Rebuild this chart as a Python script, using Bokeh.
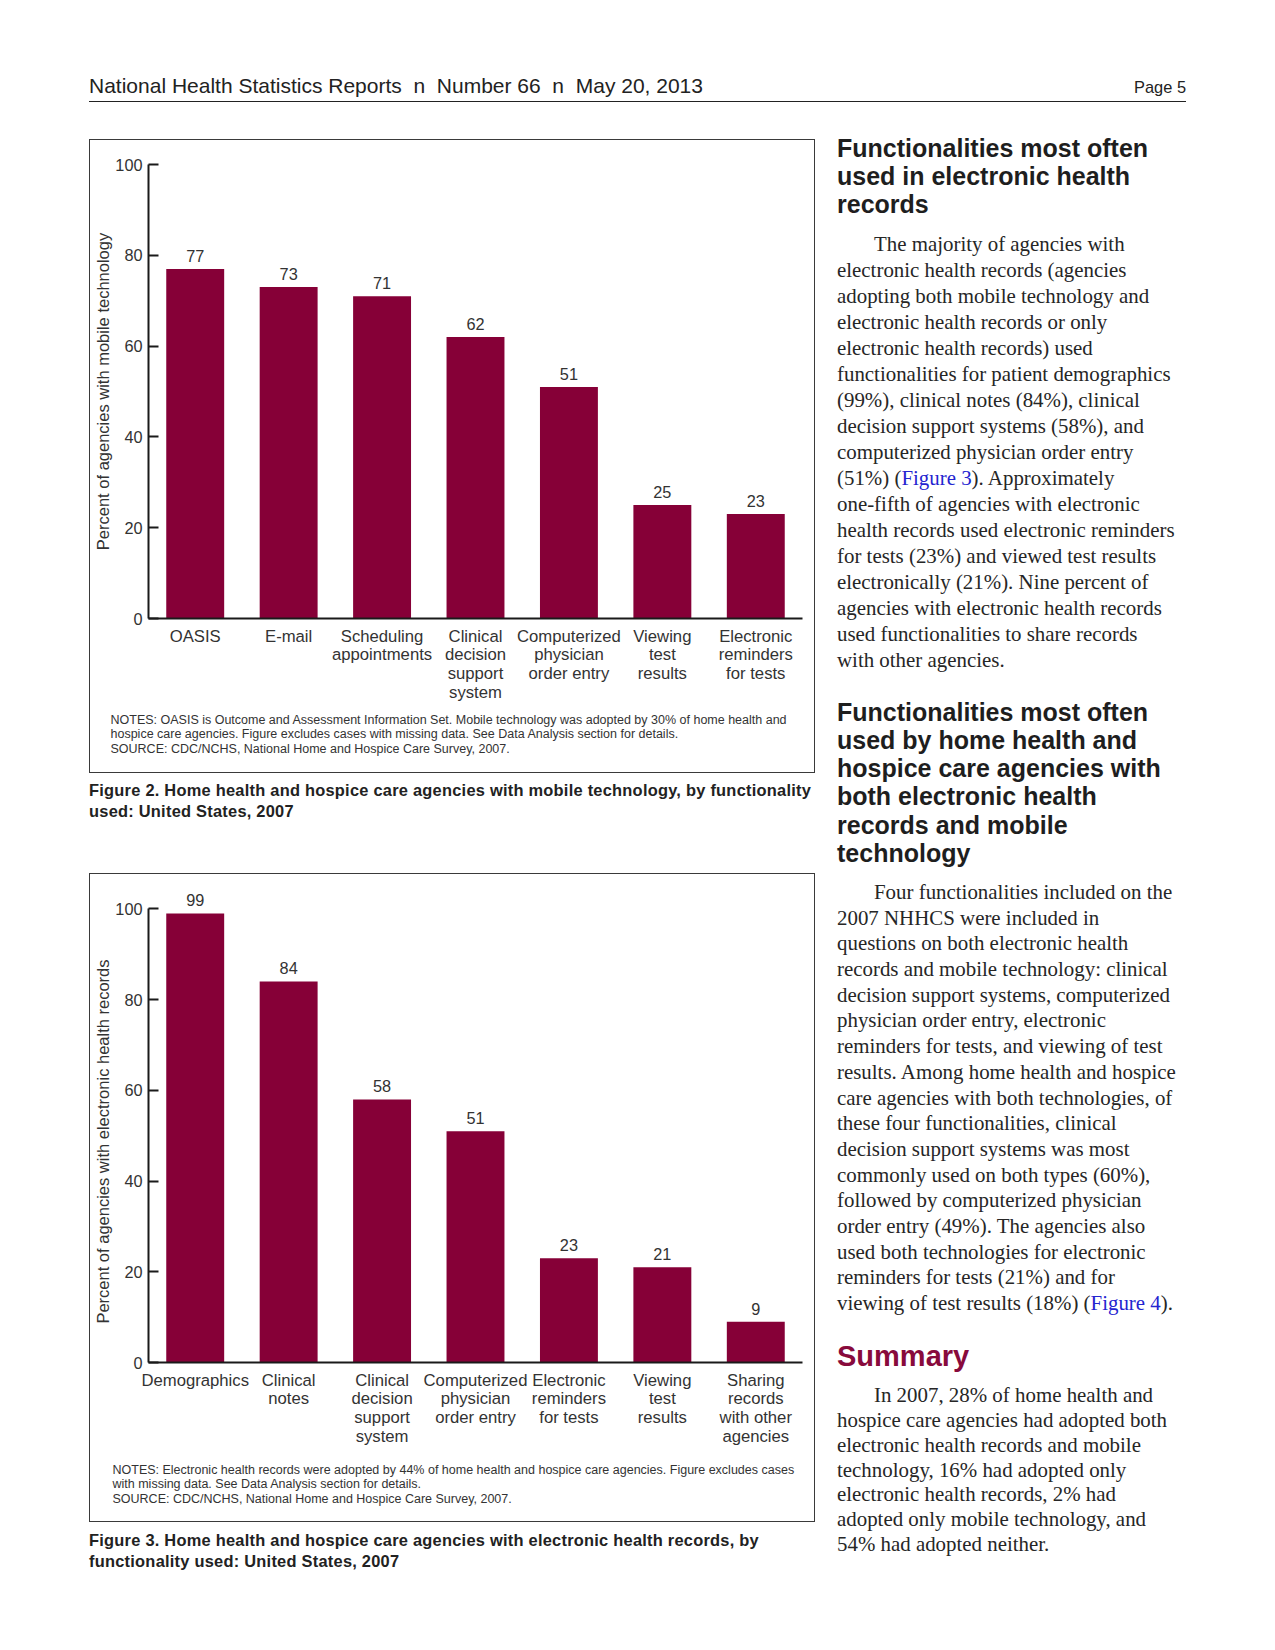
from bokeh.plotting import figure
from bokeh.models import FactorRange, Range1d, ColumnDataSource, LabelSet, Div, Spacer, FixedTicker
from bokeh.layouts import column, row
from bokeh.core.properties import value
from bokeh.embed import file_html
from bokeh.resources import INLINE

# ---------------- data ----------------
cats1 = ["OASIS", "E-mail", "Scheduling\nappointments", "Clinical\ndecision\nsupport\nsystem",
         "Computerized\nphysician\norder entry", "Viewing\ntest\nresults", "Electronic\nreminders\nfor tests"]
vals1 = [77, 73, 71, 62, 51, 25, 23]

cats2 = ["Demographics", "Clinical\nnotes", "Clinical\ndecision\nsupport\nsystem",
         "Computerized\nphysician\norder entry", "Electronic\nreminders\nfor tests",
         "Viewing\ntest\nresults", "Sharing\nrecords\nwith other\nagencies"]
vals2 = [99, 84, 58, 51, 23, 21, 9]

yticks = [0, 20, 40, 60, 80, 100]

ylabel1 = "Percent of agencies with mobile technology"
ylabel2 = "Percent of agencies with electronic health records"

notes1 = ["NOTES: OASIS is Outcome and Assessment Information Set. Mobile technology was adopted by 30% of home health and",
          "hospice care agencies. Figure excludes cases with missing data. See Data Analysis section for details.",
          "SOURCE: CDC/NCHS, National Home and Hospice Care Survey, 2007."]
notes2 = ["NOTES: Electronic health records were adopted by 44% of home health and hospice care agencies. Figure excludes cases",
          "with missing data. See Data Analysis section for details.",
          "SOURCE: CDC/NCHS, National Home and Hospice Care Survey, 2007."]

caption1 = ["Figure 2. Home health and hospice care agencies with mobile technology, by functionality",
            "used: United States, 2007"]
caption2 = ["Figure 3. Home health and hospice care agencies with electronic health records, by",
            "functionality used: United States, 2007"]

BAR = "#860037"
TXT = "#333333"
SANS = "Liberation Sans"
SERIF = "Liberation Serif"
NB = "\u00a0"


def make_chart(cats, vals, ylabel, height, top, bottom, ymax):
    p = figure(x_range=FactorRange(*cats, range_padding=0), y_range=Range1d(0, ymax),
               width=724, height=height, output_backend="svg", toolbar_location=None,
               min_border_left=58, min_border_right=12, min_border_top=top, min_border_bottom=bottom)
    p.outline_line_color = None
    p.xgrid.grid_line_color = None
    p.ygrid.grid_line_color = None
    p.background_fill_color = "white"
    p.border_fill_color = "white"

    src = ColumnDataSource(dict(cat=cats, val=vals, txt=[str(v) for v in vals]))
    p.vbar(x="cat", top="val", width=0.62, source=src, fill_color=BAR, line_color=None)
    p.add_layout(LabelSet(x="cat", y="val", text="txt", source=src, text_align="center",
                          text_baseline="middle", y_offset=13, text_font=value(SANS),
                          text_font_size="16.3px", text_color=TXT))

    ya = p.yaxis[0]
    ya.ticker = FixedTicker(ticks=yticks)
    ya.bounds = (0, 100)
    ya.major_tick_in = 10
    ya.major_tick_out = 0
    ya.minor_tick_line_color = None
    ya.axis_line_width = 2
    ya.axis_line_color = "#1a1a1a"
    ya.major_tick_line_width = 2
    ya.major_tick_line_color = "#1a1a1a"
    ya.major_label_standoff = 6
    ya.major_label_text_font = SANS
    ya.major_label_text_font_size = "16.3px"
    ya.major_label_text_color = TXT
    ya.axis_label = ylabel
    ya.axis_label_text_font = SANS
    ya.axis_label_text_font_style = "normal"
    ya.axis_label_text_font_size = "16.5px"
    ya.axis_label_text_color = TXT
    ya.axis_label_standoff = 0

    xa = p.xaxis[0]
    xa.major_tick_in = 0
    xa.major_tick_out = 0
    xa.major_tick_line_color = None
    xa.axis_line_width = 2
    xa.axis_line_color = "#1a1a1a"
    xa.major_label_standoff = 8
    xa.major_label_text_font = SANS
    xa.major_label_text_font_size = "16.7px"
    xa.major_label_text_line_height = 0.99
    xa.major_label_text_color = TXT
    return p


def notes_div(lines, pad_top, pad_left, h):
    html = ("<div style=\"font-family:'%s';font-size:12.5px;line-height:14.9px;color:#333;"
            "padding:%spx 0 0 %spx;white-space:nowrap;margin:0\">%s</div>") % (SANS, pad_top, pad_left, "<br>".join(lines))
    return Div(text=html, width=724, height=h, margin=(0, 0, 0, 0))


def caption_div(lines, pad_top, lh, h):
    html = ("<div style=\"font-family:'%s';font-weight:bold;font-size:16.4px;letter-spacing:0.25px;line-height:%spx;color:#222;"
            "padding-top:%spx;white-space:nowrap;margin:0\">%s</div>") % (SANS, lh, pad_top, "<br>".join(lines))
    return Div(text=html, width=726, height=h, margin=(0, 0, 0, 0))


p1 = make_chart(cats1, vals1, ylabel1, 568, 24, 90, 100)
p2 = make_chart(cats2, vals2, ylabel2 + NB * 7, 584, 14, 96, 104.5)

box_style = {"border": "1px solid #3a3a3a", "box-sizing": "border-box"}
box1 = column(p1, notes_div(notes1, 4.5, 20.5, 64), width=726, height=634, styles=box_style)
box2 = column(p2, notes_div(notes2, 4.5, 22.5, 63), width=726, height=649, styles=box_style)

cap1 = caption_div(caption1, 6.5, 21.5, 100)
cap2 = caption_div(caption2, 8, 20.5, 80)

header_html = (
    "<div style=\"position:relative;width:1097px;height:120px;font-family:'%s';color:#222\">"
    "<div style=\"position:absolute;left:0;top:74px;font-size:21px;line-height:24px;white-space:nowrap\">"
    "National Health Statistics Reports&nbsp; n &nbsp;Number 66&nbsp; n &nbsp;May 20, 2013</div>"
    "<div style=\"position:absolute;right:0;top:77px;font-size:16.4px;line-height:20px;white-space:nowrap\">Page 5</div>"
    "<div style=\"position:absolute;left:0;top:101px;width:1097px;border-top:1.5px solid #222\"></div>"
    "</div>") % SANS
header = Div(text=header_html, width=1097, height=120, margin=(0, 0, 0, 0))

h1 = ["Functionalities most often", "used in electronic health", "records"]
para1 = ["The majority of agencies with", "electronic health records (agencies",
         "adopting both mobile technology and", "electronic health records or only",
         "electronic health records) used", "functionalities for patient demographics",
         "(99%), clinical notes (84%), clinical", "decision support systems (58%), and",
         "computerized physician order entry",
         "(51%) (<span style=\"color:#2424d0\">Figure 3</span>). Approximately",
         "one-fifth of agencies with electronic", "health records used electronic reminders",
         "for tests (23%) and viewed test results", "electronically (21%). Nine percent of",
         "agencies with electronic health records", "used functionalities to share records",
         "with other agencies."]
h2 = ["Functionalities most often", "used by home health and", "hospice care agencies with",
      "both electronic health", "records and mobile", "technology"]
para2 = ["Four functionalities included on the", "2007 NHHCS were included in",
         "questions on both electronic health", "records and mobile technology: clinical",
         "decision support systems, computerized", "physician order entry, electronic",
         "reminders for tests, and viewing of test", "results. Among home health and hospice",
         "care agencies with both technologies, of", "these four functionalities, clinical",
         "decision support systems was most", "commonly used on both types (60%),",
         "followed by computerized physician", "order entry (49%). The agencies also",
         "used both technologies for electronic", "reminders for tests (21%) and for",
         "viewing of test results (18%) (<span style=\"color:#2424d0\">Figure 4</span>)."]
para3 = ["In 2007, 28% of home health and", "hospice care agencies had adopted both",
         "electronic health records and mobile", "technology, 16% had adopted only",
         "electronic health records, 2% had", "adopted only mobile technology, and",
         "54% had adopted neither."]

hstyle = "font-family:'%s';font-weight:bold;font-size:25px;color:#1e1e1e;margin:0;" % SANS
pstyle = "font-family:'%s';font-size:20.9px;color:#262626;margin:0;text-indent:37px;" % SERIF
right_html = (
    "<div style=\"white-space:nowrap\">"
    "<div style=\"%sline-height:28px;margin-top:14px\">%s</div>" % (hstyle, "<br>".join(h1)) +
    "<div style=\"%sline-height:26px;margin-top:12.7px\">%s</div>" % (pstyle, "<br>".join(para1)) +
    "<div style=\"%sline-height:28.2px;margin-top:25px\">%s</div>" % (hstyle, "<br>".join(h2)) +
    "<div style=\"%sline-height:25.7px;margin-top:13px\">%s</div>" % (pstyle, "<br>".join(para2)) +
    "<div style=\"font-family:'%s';font-weight:bold;font-size:29px;color:#880a3c;line-height:32px;margin-top:23px\">Summary</div>" % SANS +
    "<div style=\"%sline-height:24.9px;margin-top:11px\">%s</div>" % (pstyle, "<br>".join(para3)) +
    "</div>")
right = Div(text=right_html, width=360, height=1480, margin=(0, 0, 0, 0))

left = column(Spacer(width=726, height=19), box1, cap1, box2, cap2)
page = column(row(Spacer(width=89, height=120), header),
              row(Spacer(width=89, height=10), left, Spacer(width=22, height=10), right))

open("out.html", "w").write(file_html(page, INLINE))
